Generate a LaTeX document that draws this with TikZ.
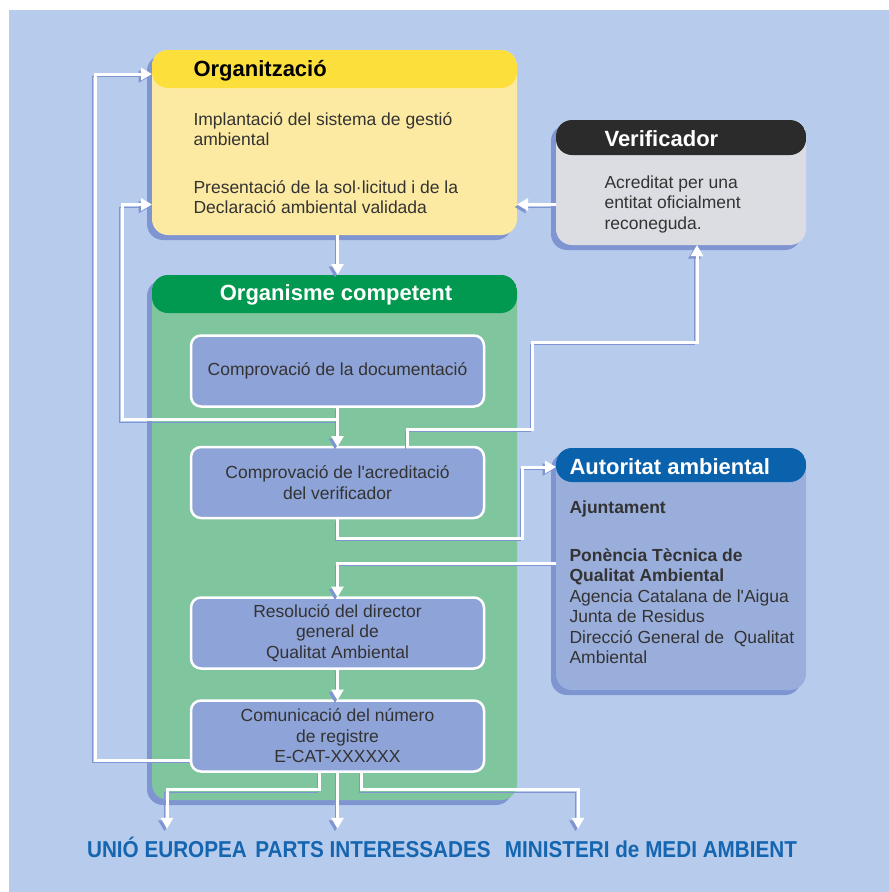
\documentclass[tikz,border=0pt]{standalone}
\usepackage{fontspec}
\setmainfont{Liberation Sans}
\newfontfamily\labelfont[FakeStretch=0.9]{Liberation Sans}
\usetikzlibrary{arrows.meta,shadows,positioning}

\definecolor{bgblue}{HTML}{B7CCEC}
\definecolor{shadowblue}{HTML}{7F95D2}
\definecolor{orghead}{HTML}{FDDF3B}
\definecolor{orgbody}{HTML}{FDEAA2}
\definecolor{verhead}{HTML}{2B2B2B}
\definecolor{verbody}{HTML}{DCDDE2}
\definecolor{comphead}{HTML}{00994F}
\definecolor{compbody}{HTML}{7FC59D}
\definecolor{authead}{HTML}{0B62AC}
\definecolor{autbody}{HTML}{9AAEDC}
\definecolor{innerblue}{HTML}{8EA3D7}
\definecolor{txtgrey}{HTML}{333333}
\definecolor{labelblue}{HTML}{1565B0}

\newcommand\txtsize{\fontsize{17.5}{20.5}\selectfont}
\newcommand\headsize{\fontsize{22}{26}\selectfont\bfseries}

\tikzset{
  box/.style={rounded corners=16pt, outer sep=0pt, inner sep=0pt,
    drop shadow={shadow xshift=-5pt, shadow yshift=-5pt, fill=shadowblue, opacity=1}},
  header/.style 2 args={path picture={\fill[#1] (path picture bounding box.north west)
    rectangle ([yshift=-#2]path picture bounding box.north east);}},
  inbox/.style={draw=white, line width=2.5pt, fill=innerblue, rounded corners=10pt,
    minimum width=293pt, minimum height=71pt, align=center, text=txtgrey,
    font=\txtsize, outer sep=0pt},
  title/.style={anchor=west, font=\headsize},
  txt/.style={anchor=west, align=left, font=\txtsize, text=txtgrey},
  dest/.style={anchor=base, font=\labelfont\fontsize{23}{26}\selectfont\bfseries,
    text=labelblue, inner ysep=12pt, text height=16pt, text depth=0pt},
  link/.style={draw=white, line width=3pt, -{Triangle[width=12pt,length=11pt]},
    preaction={draw=shadowblue, transform canvas={shift={(-2.5pt,-2.5pt)}}}}
}

\begin{document}
\begin{tikzpicture}[x=1pt,y=-1pt]
\useasboundingbox (0,0) rectangle (889,892);
\fill[white] (0,0) rectangle (889,892);
\fill[bgblue] (9,10) rectangle (889,892);

% main boxes
\node[box, fill=orgbody, header={orghead}{38pt}, minimum width=365pt, minimum height=185pt] (org) at (334.5,142.5) {};
\node[box, fill=verbody, header={verhead}{35pt}, minimum width=250pt, minimum height=125pt] (verif) at (681,182.5) {};
\node[box, fill=compbody, header={comphead}{38pt}, minimum width=365pt, minimum height=525pt] (comp) at (334.5,537.5) {};
\node[box, fill=autbody, header={authead}{34pt}, minimum width=250pt, minimum height=242pt] (aut) at (681,569) {};

% titles
\node[title, text=black] (orgtitle) at (190,71) {Organització};
\node[title, text=white] (vertitle) at (601,139) {Verificador};
\node[font=\headsize, text=white] (comptitle) at (336,295) {Organisme competent};
\node[title, text=white] (auttitle) at (566,467) {Autoritat ambiental};

% texts
\node[txt] (implant) at (190,129) {Implantació del sistema de gestió\\ambiental};
\node[txt] (present) at (190,197) {Presentació de la sol·licitud i de la\\Declaració ambiental validada};
\node[txt] (acredtxt) at (601,204) {Acreditat per una\\entitat oficialment\\reconeguda.};
\node[txt, font=\txtsize\bfseries] (ajunt) at (566,509) {Ajuntament};
\node[txt] (ponencia) at (566,606) {\textbf{Ponència Tècnica de}\\\textbf{Qualitat Ambiental}\\Agencia Catalana de l\textquotesingle Aigua\\Junta de Residus\\Direcció General de \ Qualitat\\Ambiental};

% steps inside Organisme competent
\node[inbox] (doc) at (337.5,371) {Comprovació de la documentació};
\node[inbox] (acred) at (337.5,482.5) {Comprovació de l\textquotesingle acreditació\\del verificador};
\node[inbox] (resol) at (337.5,633) {Resolució del director\\general de\\Qualitat Ambiental};
\node[inbox] (comun) at (337.5,736) {Comunicació del número\\de registre\\E-CAT-XXXXXX};

% destinations
\node[dest] (ue) at (167,857) {UNIÓ EUROPEA};
\node[dest] (parts) at (373,857) {PARTS INTERESSADES};
\node[dest] (mma) at (651,857) {MINISTERI de MEDI AMBIENT};

% connectors
\draw[link] (org.south -| doc.north) -- (comp.north -| doc.north);
\draw[link] ([yshift=-22pt]verif.west) -- ([yshift=-22pt]verif.west -| org.east);
\draw[link] ([yshift=-24pt]comun.west) -| ([xshift=-57pt]org.west) |- ([yshift=-24pt]org.north west); % back to Organitzacio
\draw[link] (doc.south) -- (acred.north);
\draw[link] ([yshift=-13pt]doc.south) -| ([xshift=-30pt,yshift=-62pt]org.west) -- ([yshift=-62pt]org.west);
\draw[link] ([xshift=70pt]acred.north) |- ++(125,-18) -- ++(0,-87) -| ([xshift=16pt]verif.south);
\draw[link] (acred.south) |- ++(185,20) |- ([yshift=-19pt]aut.north west);
\draw[link] ([yshift=6pt]aut.west) -| (resol.north);
\draw[link] (resol.south) -- (comun.north);
\draw[link] ([xshift=-18pt]comun.south) -- ++(0,18) -| (ue.north);
\draw[link] (comun.south) -- (comun.south |- parts.north);
\draw[link] ([xshift=24pt]comun.south) -- ++(0,18) -| ([xshift=-73pt]mma.north);
\end{tikzpicture}
\end{document}
